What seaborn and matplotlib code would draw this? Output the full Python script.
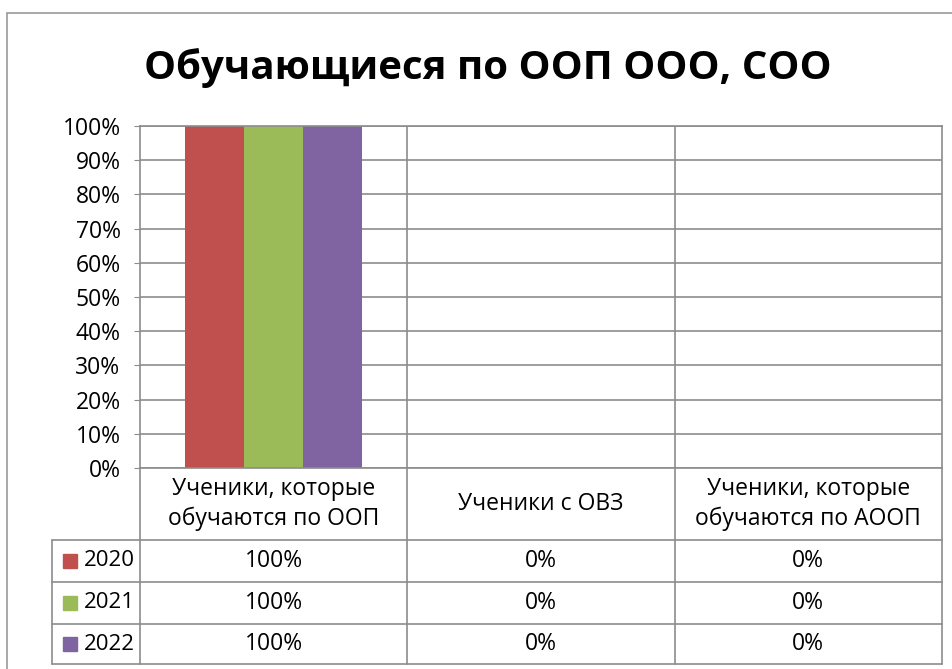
import matplotlib
matplotlib.use("Agg")
import matplotlib.pyplot as plt
import matplotlib.transforms as mtransforms
from matplotlib.lines import Line2D
from matplotlib.patches import Rectangle
import pandas as pd
import seaborn as sns

# data
categories = ["Ученики, которые\nобучаются по ООП", "Ученики с ОВЗ", "Ученики, которые\nобучаются по АООП"]
years = ["2020", "2021", "2022"]
values_2020 = [100, 0, 0]
values_2021 = [100, 0, 0]
values_2022 = [100, 0, 0]
colors = ["#C0504D", "#9BBB59", "#8064A2"]
title = "Обучающиеся по ООП ООО, СОО"

sns.set_style("white")
plt.rcParams["font.family"] = ["Open Sans", "DejaVu Sans"]
plt.rcParams["text.color"] = "black"
plt.rcParams["ytick.labelcolor"] = "black"

W, H = 953, 669
grid_col = "#8c8c8c"


def fx(px):
    return px / W


def fy(py):
    return 1 - py / H


df = pd.DataFrame({
    "category": categories * 3,
    "year": [y for y in years for _ in categories],
    "value": values_2020 + values_2021 + values_2022,
})

fig = plt.figure(figsize=(W / 100, H / 100), dpi=100)
ax = fig.add_axes([fx(140), fy(468), fx(942) - fx(140), fy(126) - fy(468)])

sns.barplot(data=df, x="category", y="value", hue="year", palette=colors,
            width=0.66, saturation=1, legend=False, ax=ax, linewidth=0)

ax.set_xlim(-0.5, 2.5)
ax.set_ylim(0, 100)
ax.set_yticks(range(0, 101, 10))
ax.set_yticklabels([f"{t}%" for t in range(0, 101, 10)], fontsize=16.5)
ax.set_xticks([])
ax.set_xlabel("")
ax.set_ylabel("")
ax.yaxis.grid(True, color=grid_col, linewidth=1.2)
ax.set_axisbelow(True)
ax.tick_params(axis="y", left=True, length=4, color=grid_col, pad=10)
for x in [0.5, 1.5]:
    ax.axvline(x, color=grid_col, linewidth=1.2, zorder=0)
for s in ax.spines.values():
    s.set_color(grid_col)
    s.set_linewidth(1.2)

# data table under the plot
bt = mtransforms.blended_transform_factory(ax.transData, fig.transFigure)
row_y = [540, 582, 624, 664]
for x in [-0.5, 0.5, 1.5, 2.5]:
    fig.add_artist(Line2D([x, x], [fy(468), fy(664)], transform=bt,
                          color=grid_col, linewidth=1.2))
fig.add_artist(Line2D([fx(52), fx(52)], [fy(540), fy(664)],
                      transform=fig.transFigure, color=grid_col, linewidth=1.2))
for py in row_y:
    fig.add_artist(Line2D([fx(52), fx(942)], [fy(py), fy(py)],
                          transform=fig.transFigure, color=grid_col, linewidth=1.2))

for i, cat in enumerate(categories):
    fig.text(i, fy(504), cat, transform=bt, ha="center", va="center",
             fontsize=16.5, linespacing=1.3)

all_vals = [values_2020, values_2021, values_2022]
for r, (yr, col, vals) in enumerate(zip(years, colors, all_vals)):
    cy = (row_y[r] + row_y[r + 1]) / 2
    fig.add_artist(Rectangle((fx(63), fy(cy + 7)), fx(14), fy(cy - 7) - fy(cy + 7),
                             transform=fig.transFigure, color=col))
    fig.text(fx(84), fy(cy), yr, ha="left", va="center", fontsize=16)
    for i, v in enumerate(vals):
        fig.text(i, fy(cy), f"{v}%", transform=bt, ha="center", va="center",
                 fontsize=16.5)

fig.text(fx(488), fy(68), title, ha="center", va="center",
         fontsize=29, fontweight="bold")

# chart area border
fig.add_artist(Rectangle((fx(7), fy(700)), fx(960), fy(13) - fy(700),
                         transform=fig.transFigure, fill=False,
                         edgecolor="#9a9a9a", linewidth=1.2))

fig.savefig("out.png", dpi=100)
